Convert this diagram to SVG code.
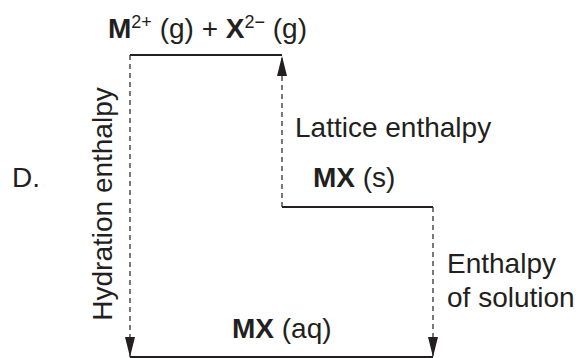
<svg xmlns="http://www.w3.org/2000/svg" width="582" height="358" viewBox="0 0 582 358">
<style>
text { font-family: "Liberation Sans", Arial, sans-serif; font-size: 28px; fill: #231f20; }
.b { font-weight: bold; }
.sup { font-size: 18px; }
.level { stroke: #231f20; stroke-width: 2; fill: none; }
.conn { stroke: #231f20; stroke-width: 1.2; stroke-dasharray: 5 4; fill: none; }
</style>
<defs>
<marker id="ah" viewBox="0 0 20 10" refX="20" refY="5" markerWidth="20" markerHeight="10" markerUnits="userSpaceOnUse" orient="auto">
<path d="M0,0 L20,5 L0,10 Z" fill="#231f20"/>
</marker>
</defs>
<rect width="582" height="358" fill="#ffffff"/>
<text x="12" y="187">D.</text>
<g id="gas">
<line class="level" x1="130" y1="55" x2="282" y2="55"/>
<text x="108" y="38"><tspan class="b">M</tspan><tspan class="sup" dy="-10">2+</tspan><tspan dy="10"> (g) + </tspan><tspan class="b">X</tspan><tspan class="sup" dy="-10">2−</tspan><tspan dy="10"> (g)</tspan></text>
</g>
<g id="solid">
<line class="level" x1="282" y1="207" x2="433" y2="207"/>
<text x="313" y="187"><tspan class="b">MX</tspan> (s)</text>
</g>
<g id="aqueous">
<line class="level" x1="130" y1="357" x2="433" y2="357"/>
<text x="232" y="338"><tspan class="b">MX</tspan> (aq)</text>
</g>
<g id="connectors">
<line class="conn" x1="130" y1="55" x2="130" y2="357" marker-end="url(#ah)"/>
<line class="conn" x1="282" y1="207" x2="282" y2="56" marker-end="url(#ah)"/>
<line class="conn" x1="433" y1="207" x2="433" y2="357" marker-end="url(#ah)"/>
<text transform="translate(112,204) rotate(-90)" text-anchor="middle">Hydration enthalpy</text>
<text x="295" y="137">Lattice enthalpy</text>
<text x="447" y="273">Enthalpy</text>
<text x="447" y="307">of solution</text>
</g>
</svg>
